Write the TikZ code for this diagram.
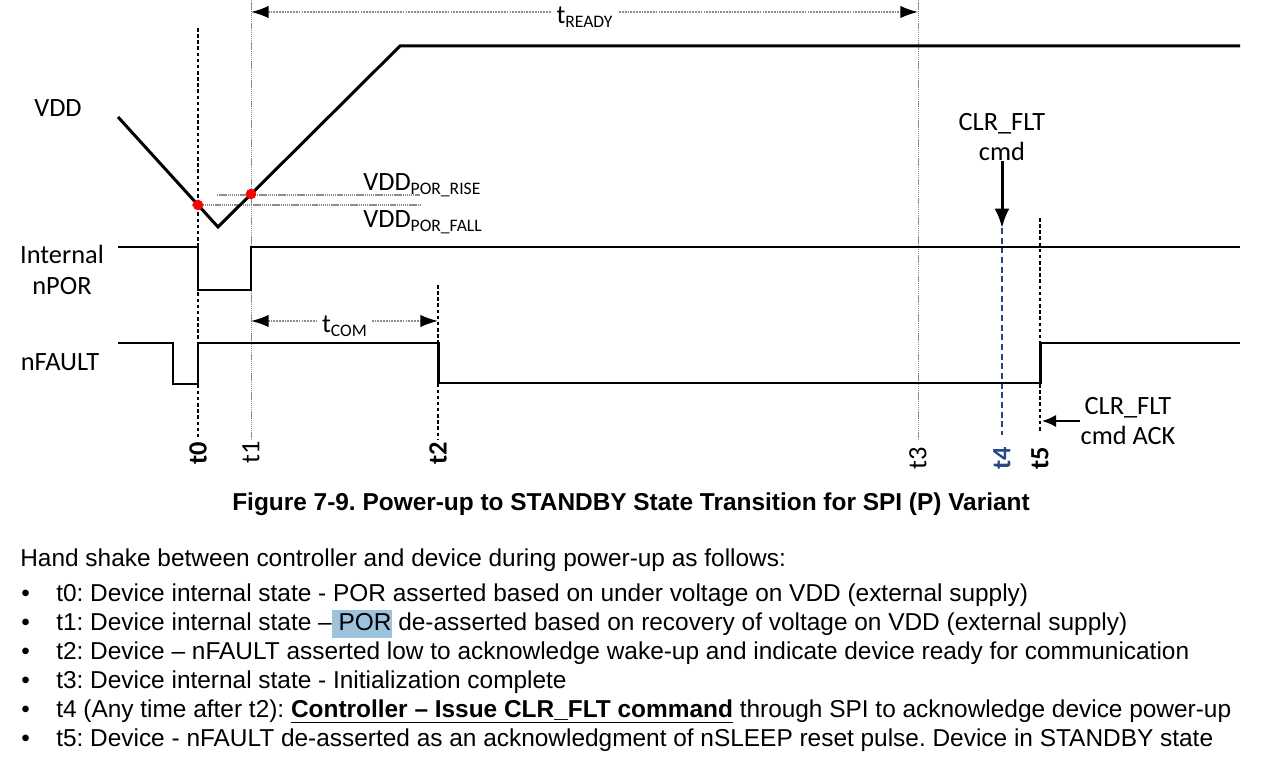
\documentclass[tikz,border=0pt]{standalone}
\usepackage{fontspec}
\setmainfont{Liberation Sans}
\newfontfamily\calibri{Carlito}
\usetikzlibrary{arrows.meta,positioning}
\definecolor{tiblue}{RGB}{40,72,132}
\definecolor{porblue}{RGB}{156,194,222}
\newcommand\lowsub[1]{\raisebox{-0.3ex}{\fontsize{10}{10}\selectfont #1}}
\frenchspacing

\begin{document}
\begin{tikzpicture}[x=0.02cm, y=-0.02cm,
    wave/.style={line width=1.7pt, line join=miter},
    tmark/.style={line width=1.1pt, dash pattern=on 2pt off 1.5pt},
    tthin/.style={line width=0.5pt, black!45, dash pattern=on 0.8pt off 0.4pt},
    tblue/.style={line width=1.6pt, tiblue, dash pattern=on 3.5pt off 2pt},
    level/.style={line width=0.6pt, black!45, dash pattern=on 0.8pt off 0.4pt},
    span/.style={line width=0.9pt, black!45, dash pattern=on 1pt off 0.6pt, {Latex[length=10pt,width=7pt,color=black]}-{Latex[length=10pt,width=7pt,color=black]}},
    callout/.style={line width=1.7pt, -{Latex[length=11pt,width=8.5pt]}},
    dot/.style={circle, fill=red, inner sep=0pt, minimum size=6pt},
    lbl/.style={font=\calibri\fontsize{15}{17.5}\selectfont, inner sep=0pt, text=black},
    tlbl/.style={font=\calibri\fontsize{15}{17.5}\selectfont, rotate=90, inner sep=0pt},
    body/.style={anchor=base west, inner sep=0pt, font=\fontsize{13.9}{16}\selectfont},
]
    \useasboundingbox (0,0) rectangle (1266,759);

    % signal names
    \node[lbl] (vdd) at (58,108) {VDD};
    \node[lbl, align=center] (npor) at (62,270) {Internal\\nPOR};
    \node[lbl] (nfault) at (60,362) {nFAULT};

    % time markers
    \draw[tmark] (198,28) -- (198,440);
    \draw[tthin] (251,0) -- (251,440);
    \draw[tmark] (438,285) -- (438,440);
    \draw[tthin] (918,0) -- (918,440);
    \draw[tblue] (1002,228) -- (1002,435);
    \draw[tmark] (1040,218) -- (1040,433);

    % VDD thresholds
    \draw[level] (217,195) -- (420,195);
    \draw[level] (192,205) -- (420,205);
    \node[lbl, anchor=base west] (rise) at (363,191) {VDD\lowsub{POR\_RISE}};
    \node[lbl, anchor=base west] (fall) at (363,228) {VDD\lowsub{POR\_FALL}};

    % waveforms
    \draw[wave] (118,117) -- (218,227) -- (400,46) -- (1240,46);
    \draw[wave] (118,247) -- (198,247) -- (198,290) -- (251,290) -- (251,247) -- (1240,247);
    \draw[wave] (118,343) -- (173,343) -- (173,384) -- (198,384) -- (198,343) -- (438,343)
        -- (438,383) -- (1040,383) -- (1040,343) -- (1240,343);
    \node[dot] (porfall) at (198,205) {};
    \node[dot] (porrise) at (251,194) {};

    % intervals
    \coordinate (rdy0) at (251,12);
    \coordinate (rdy1) at (918,12);
    \draw[span] (rdy0) -- node[lbl, fill=white, inner xsep=3pt, yshift=-3pt] (tready) {t\lowsub{READY}} (rdy1);
    \coordinate (com0) at (251,321);
    \coordinate (com1) at (438,321);
    \draw[span] (com0) -- node[lbl, fill=white, inner xsep=3pt, yshift=-3pt] (tcom) {t\lowsub{COM}} (com1);

    % commands
    \node[lbl, align=center] (clr) at (1002,137) {CLR\_FLT\\cmd};
    \coordinate (clrtip) at (1002,228);
    \draw[callout] (clr) -- (clrtip);
    \node[lbl, align=center] (ack) at (1128,421) {CLR\_FLT\\cmd ACK};
    \coordinate (acktip) at (1042,421);
    \draw[callout, line width=1.2pt, -{Latex[length=8pt,width=7pt]}] (ack.west |- acktip) -- (acktip);

    % time labels
    \node[tlbl, font=\calibri\bfseries\fontsize{15}{17.5}\selectfont] (lt0) at (198,453) {t0};
    \node[tlbl] (lt1) at (251,452) {t1};
    \node[tlbl, font=\calibri\bfseries\fontsize{15}{17.5}\selectfont] (lt2) at (438,453) {t2};
    \node[tlbl] (lt3) at (918,458) {t3};
    \node[tlbl, tiblue, font=\calibri\bfseries\fontsize{15}{17.5}\selectfont] (lt4) at (1002,458) {t4};
    \node[tlbl, font=\calibri\bfseries\fontsize{15}{17.5}\selectfont] (lt5) at (1040,458) {t5};

    % caption and notes
    \node[font=\bfseries\fontsize{13.9}{16}\selectfont, inner sep=0pt] (caption) at (631,504) {Figure 7-9. Power-up to STANDBY State Transition for SPI (P) Variant};
    \node[body] (intro) at (20,566) {Hand shake between controller and device during power-up as follows:};
    \node[body] (s0) at (21,601) {•\hspace{15pt}t0: Device internal state - POR asserted based on under voltage on VDD (external supply)};
    \node[body] (s1) at (21,630) {•\hspace{15pt}t1: Device internal state –{\fboxsep=0pt\colorbox{porblue}{\strut\ POR}} de-asserted based on recovery of voltage on VDD (external supply)};
    \node[body] (s2) at (21,659) {•\hspace{15pt}t2: Device – nFAULT asserted low to acknowledge wake-up and indicate device ready for communication};
    \node[body] (s3) at (21,688) {•\hspace{15pt}t3: Device internal state - Initialization complete};
    \node[body] (s4) at (21,717) {•\hspace{15pt}t4 (Any time after t2): \textbf{\underline{Controller – Issue CLR\_FLT command}} through SPI to acknowledge device power-up};
    \node[body] (s5) at (21,746) {•\hspace{15pt}t5: Device - nFAULT de-asserted as an acknowledgment of nSLEEP reset pulse. Device in STANDBY state};
\end{tikzpicture}
\end{document}
